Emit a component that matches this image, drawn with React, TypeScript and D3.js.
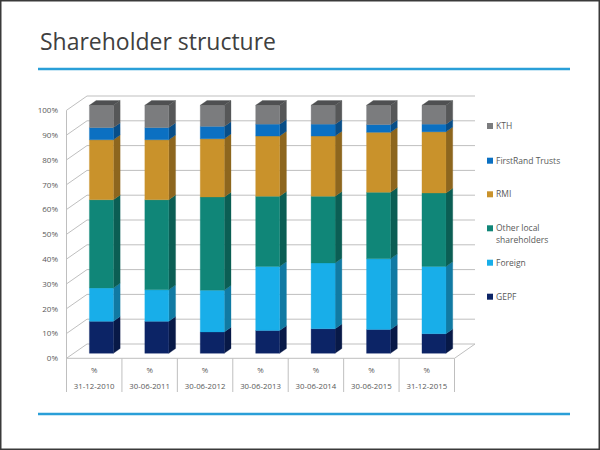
import React from "react";
import * as d3 from "d3";

const categories = ["31-12-2010", "30-06-2011", "30-06-2012", "30-06-2013", "30-06-2014", "30-06-2015", "31-12-2015"];
const seriesNames = ["GEPF", "Foreign", "Other local shareholders", "RMI", "FirstRand Trusts", "KTH"];
const gepf = [12.9, 12.9, 8.6, 9.2, 9.9, 9.6, 7.9];
const foreign = [13.4, 12.7, 16.8, 25.8, 26.5, 28.5, 27.1];
const otherLocal = [35.6, 36.3, 37.6, 28.3, 26.9, 26.8, 29.6];
const rmi = [24.2, 24.2, 23.5, 24.3, 24.3, 24.2, 24.7];
const firstRand = [4.9, 4.9, 5.0, 4.8, 4.8, 3.1, 3.1];
const kth = [9.0, 9.0, 8.5, 7.6, 7.6, 7.8, 7.6];
const yTicks = [0, 10, 20, 30, 40, 50, 60, 70, 80, 90, 100];
const colors = ["#0c2466", "#18aee9", "#108678", "#c9922b", "#0b70c2", "#7b7c7e"];

const seriesValues = [gepf, foreign, otherLocal, rmi, firstRand, kth];

export default function App() {
  const W = 600, H = 450;
  const DX = -20.5, DY = 14.3;
  const y = d3.scaleLinear().domain([0, 100]).range([344, 96]);
  const x = d3.scaleBand<string>().domain(categories).range([87, 475]);
  const zf = 0.65, zb = 0.32;
  const halfW = 12;
  const font = "'Open Sans', sans-serif";
  const labelColor = "#595959";
  const grid = "#bfbfbf";

  const table = categories.map((c, i) => ({ c, data: seriesValues.map(s => s[i]) }));
  const stackGen = d3.stack<any>().keys(seriesNames.map((_, k) => String(k))).value((d: any, key) => d.data[+key]);
  const stacked = stackGen(table);

  const P = (px: number, v: number, z: number) => [px + DX * z, y(v) + DY * z];
  const poly = (pts: number[][]) => pts.map(p => p.join(",")).join(" ");

  const bars: JSX.Element[] = [];
  categories.forEach((c, i) => {
    const cx = (x(c) as number) + x.bandwidth() / 2;
    const xl = cx - halfW, xr = cx + halfW;
    stacked.forEach((layer, k) => {
      const [v0, v1] = layer[i];
      const col = d3.color(colors[k])!;
      const side = col.darker(1.0).formatHex();
      const front = colors[k];
      const frontPts = [P(xl, v0, zf), P(xr, v0, zf), P(xr, v1, zf), P(xl, v1, zf)];
      const sidePts = [P(xr, v0, zf), P(xr, v0, zb), P(xr, v1, zb), P(xr, v1, zf)];
      bars.push(<polygon key={`s${i}-${k}`} points={poly(sidePts)} fill={side} stroke={side} strokeWidth={0.3} />);
      bars.push(<polygon key={`f${i}-${k}`} points={poly(frontPts)} fill={front} stroke={front} strokeWidth={0.3} />);
      if (k === stacked.length - 1) {
        const topPts = [P(xl, v1, zf), P(xr, v1, zf), P(xr, v1, zb), P(xl, v1, zb)];
        bars.push(<polygon key={`t${i}`} points={poly(topPts)} fill="#4f5052" stroke="#4f5052" strokeWidth={0.3} />);
      }
    });
  });

  const x0 = 87, x1 = 475;
  const fx0 = x0 + DX, fx1 = x1 + DX;
  const floorY = y(0) + DY;
  const boundaries = [...categories.map(c => x(c) as number), x1];

  const legendY = [296.7, 262.7, 228.3, 194.3, 160.7, 126];

  return (
    <svg width={W} height={H} style={{ position: "absolute", left: 0, top: 0, background: "#fff" }} fontFamily={font}>
      <rect x={0} y={0} width={W} height={H} fill="#fff" />
      <rect x={0.75} y={0.75} width={W - 1.5} height={H - 1.5} fill="none" stroke="#3a3a3a" strokeWidth={1.5} />
      <text x={40} y={50} fontSize={24} fill="#404040" textLength={236} lengthAdjust="spacingAndGlyphs">Shareholder structure</text>
      <line x1={38} x2={570} y1={69} y2={69} stroke="#2a9fd8" strokeWidth={2.5} />
      <line x1={38} x2={570} y1={414} y2={414} stroke="#2a9fd8" strokeWidth={2.5} />

      {yTicks.map(t => (
        <g key={t}>
          <line x1={fx0} y1={y(t) + DY} x2={x0} y2={y(t)} stroke={grid} strokeWidth={1} />
          <line x1={x0} y1={y(t)} x2={x1} y2={y(t)} stroke={grid} strokeWidth={1} />
          <text x={58} y={y(t) + DY} dy="0.35em" textAnchor="end" fontSize={8} fill={labelColor}>{t}%</text>
        </g>
      ))}
      <line x1={fx0} y1={y(100) + DY} x2={fx0} y2={392} stroke={grid} strokeWidth={1} />
      <line x1={fx0} y1={floorY} x2={fx1} y2={floorY} stroke={grid} strokeWidth={1} />
      <line x1={fx1} y1={floorY} x2={x1} y2={y(0)} stroke={grid} strokeWidth={1} />
      {boundaries.map((b, i) => (
        <line key={i} x1={b + DX} x2={b + DX} y1={floorY} y2={392} stroke={grid} strokeWidth={1} />
      ))}
      {categories.map(c => {
        const cx = (x(c) as number) + x.bandwidth() / 2 + DX;
        return (
          <g key={c}>
            <text x={cx} y={373} textAnchor="middle" fontSize={7.8} fill={labelColor}>%</text>
            <text x={cx} y={389} textAnchor="middle" fontSize={7.8} fill={labelColor}>{c}</text>
          </g>
        );
      })}

      {bars}

      {seriesNames.map((n, k) => (
        <g key={n}>
          <rect x={487} y={legendY[k] - 3} width={6} height={6} fill={colors[k]} />
          {n === "Other local shareholders" ? (
            <text x={496} y={legendY[k]} fontSize={8.5} fill={labelColor}>
              <tspan x={496} dy="0.35em">Other local</tspan>
              <tspan x={496} dy="1.35em">shareholders</tspan>
            </text>
          ) : (
            <text x={496} y={legendY[k]} dy="0.35em" fontSize={8.5} fill={labelColor}>{n}</text>
          )}
        </g>
      ))}
    </svg>
  );
}
